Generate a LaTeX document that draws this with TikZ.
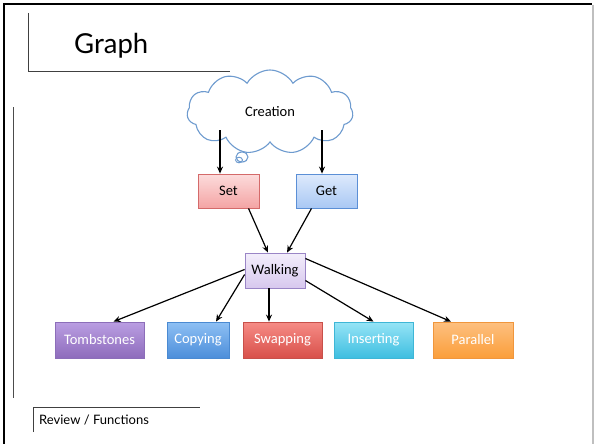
\documentclass[tikz,border=0pt]{standalone}
\usepackage{fontspec}
\setmainfont{Carlito}
\newfontfamily\titlefont{Lato}
\usetikzlibrary{shapes.symbols,arrows.meta}
\definecolor{cloudc}{HTML}{6E9BCF}
\tikzset{
  box/.style={draw, line width=0.8pt, minimum height=34pt, inner sep=0pt, font=\fontsize{14.5}{17}\selectfont},
  edge/.style={line width=1.2pt, -{Stealth[length=7pt,width=6pt]}},
  rule/.style={line width=0.9pt, black!75},
}
\begin{document}
\begin{tikzpicture}[x=1pt,y=-1pt]
\useasboundingbox (0,0) rectangle (594,444);
\fill[white] (0,0) rectangle (594,444);
% frame
\draw[line width=2.5pt] (4,444) -- (4,4) -- (592,4);
\draw[line width=1.2pt, black!25] (593,5) -- (593,444);
% title rule
\draw[rule] (28,13) -- (28,71) -- (230,71);
\node[anchor=base west, inner sep=0pt, font=\titlefont\fontsize{27.5}{30}\selectfont] (title) at (74,54) {Graph};
% left line
\draw[line width=0.9pt, black!70] (13,107) -- (13,398);
% footer
\draw[rule] (33,432) -- (33,407) -- (200,407);
\node[anchor=base west, inner sep=0pt, font=\titlefont\fontsize{13}{15}\selectfont] (footer) at (39,424) {Review / Functions};
% cloud
\node[cloud, cloud puffs=11, cloud puff arc=120, aspect=2.0, draw=cloudc, line width=1.1pt, fill=white,
      minimum width=166pt, minimum height=84pt, inner sep=0pt, font=\fontsize{14.5}{17}\selectfont] (creation) at (270,112) {Creation};
\draw[cloudc, line width=1.1pt, fill=white] (242,157) ellipse (6pt and 5pt);
\draw[cloudc, line width=0.9pt] (239,160) ellipse (3.5pt and 2.8pt);
\coordinate (cl) at (220,130);
\coordinate (cr) at (322,130);
% mid nodes
\node[box, minimum width=61pt, draw={rgb,255:red,212;green,106;blue,106}, top color={rgb,255:red,252;green,220;blue,220}, bottom color={rgb,255:red,244;green,164;blue,164}] (set) at (228.5,191) {Set};
\node[box, minimum width=61pt, draw={rgb,255:red,91;green,143;blue,214}, top color={rgb,255:red,222;green,234;blue,252}, bottom color={rgb,255:red,169;green,200;blue,244}] (get) at (326.5,191) {Get};
\node[box, minimum width=60pt, minimum height=35pt, draw={rgb,255:red,154;green,133;blue,198}, top color={rgb,255:red,243;green,238;blue,251}, bottom color={rgb,255:red,215;green,200;blue,238}] (walk) at (275,270.5) {Walking};
% bottom nodes
\tikzset{lowbox/.style={box, text=white, minimum height=36pt}}
\node[lowbox, minimum width=89pt, draw={rgb,255:red,140;green,110;blue,185}, top color={rgb,255:red,186;green,158;blue,226}, bottom color={rgb,255:red,142;green,108;blue,188}] (tomb) at (99.5,340) {Tombstones};
\node[lowbox, minimum width=62pt, draw={rgb,255:red,74;green,138;blue,210}, top color={rgb,255:red,142;green,192;blue,244}, bottom color={rgb,255:red,76;green,142;blue,218}] (copy) at (198,340) {Copying};
\node[lowbox, minimum width=79pt, draw={rgb,255:red,200;green,80;blue,74}, top color={rgb,255:red,246;green,140;blue,134}, bottom color={rgb,255:red,216;green,80;blue,74}] (swap) at (282.5,340) {Swapping};
\node[lowbox, minimum width=79pt, draw={rgb,255:red,62;green,182;blue,214}, top color={rgb,255:red,150;green,228;blue,246}, bottom color={rgb,255:red,62;green,190;blue,224}] (ins) at (373.5,340) {Inserting};
\node[lowbox, minimum width=80pt, draw={rgb,255:red,240;green,150;blue,60}, top color={rgb,255:red,253;green,192;blue,128}, bottom color={rgb,255:red,251;green,158;blue,58}] (par) at (473,340) {Parallel};
% edges
\draw[edge] (cl) -- (cl |- set.north);
\draw[edge] (cr) -- (cr |- get.north);
\draw[edge] ([xshift=20pt]set.south) -- ([xshift=-7pt]walk.north);
\draw[edge] ([xshift=-15pt]get.south) -- ([xshift=12pt]walk.north);
\draw[edge] ([yshift=1pt]walk.west) -- ([xshift=14pt]tomb.north);
\draw[edge] ([yshift=-4pt]walk.west) -- ([xshift=18pt]copy.north);
\draw[edge] ([xshift=-6pt]walk.south) -- ([xshift=-13.5pt]swap.north);
\draw[edge] ([yshift=-10pt]walk.east) -- ([xshift=0pt]ins.north);
\draw[edge] ([yshift=12pt]walk.east) -- ([xshift=-22pt]par.north);
\end{tikzpicture}
\end{document}
